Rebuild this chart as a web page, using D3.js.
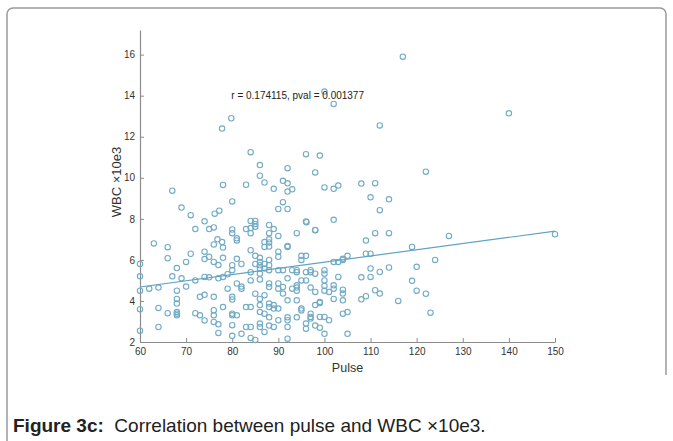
<!DOCTYPE html>
<html>
<head>
<meta charset="utf-8">
<script src="https://cdn.jsdelivr.net/npm/d3@7"></script>
<style>
  body { margin: 0; background: #fff; }
  svg { display: block; font-family: "Liberation Sans", Arial, sans-serif; }
</style>
</head>
<body>
<svg id="chart"></svg>
<script>
// pulse / wbc pairs
var pulse = [117,100,102,140,112,79.8,77.8,84,96,99,86,92,98,122,86,87,91,92,92,93,89,67,78,83,100,102,103,108,111,110,114,112,91,90,92,80,69,71,76.2,77.2,74,72,75,76,80,80,81,81,84,85,84,85,84,83,85,
  88,89,88,88,88,87,87,88,90,94,96,98,102,109,111,114,127,150,92,63,66,66,76.8,77.8,76,78,
  60,60,60,60,60,62,64,64,64,66,67,68,68,68,68,68,68,68,69,70,70,71,72,72,73,73,74,74,74,74,74,75,75,76,76,76,76,76,77,77,77,77,78,78,78,79,79,80,80,80,80,80,80,80,80,81,81,81,82,82,82,82,83,83,
  84,84,84,84,84,84,85,85,85,85,86,86,86,86,86,86,86,86,86,86,86,87,87,87,87,87,88,88,88,88,88,88,88,88,88,89,89,89,90,90,90,90,90,90,90,91,91,91,92,92,92,92,92,92,92,93,93,
  94,94,94,94,94,94,94,95,95,95,95,96,96,96,96,96,97,97,97,97,97,97,98,98,98,98,99,99,99,99,100,100,100,100,100,100,100,101,101,102,102,102,102,103,103,104,104,104,104,104,104,105,105,105,
  108,108,109,109,110,110,110,111,112,112,114,116,119,119,120,120,122,123,124,96.1,98,95];
var wbc = [15.9,14.2,13.6,13.14,12.55,12.9,12.4,11.25,11.15,11.08,10.62,10.47,10.26,10.3,10.1,9.77,9.85,9.73,9.33,9.44,9.46,9.37,9.65,9.66,9.53,9.46,9.62,9.72,9.74,9.05,8.95,8.42,8.81,8.48,8.48,8.85,8.55,8.18,8.25,8.4,7.88,7.5,7.5,7.58,7.48,7.3,7.05,6.95,7.9,7.9,7.55,7.62,7.3,7.5,7.75,
  7.7,7.5,7.3,7.0,6.85,6.87,6.63,6.65,7.17,7.3,7.87,7.46,7.95,6.94,7.3,7.3,7.17,7.25,6.68,6.8,6.62,6.08,7.0,6.87,6.75,6.6,
  5.8,5.2,4.5,3.6,2.55,4.6,4.65,3.66,2.73,3.4,5.2,5.6,4.5,4.1,3.87,3.46,3.38,3.3,5.1,5.9,4.7,6.3,5.0,3.4,3.3,4.2,4.3,5.17,3.05,6.4,6.04,6.15,5.15,5.9,4.2,3.55,3.3,2.98,5.75,5.1,2.86,2.44,6.1,5.17,3.7,5.3,4.6,5.74,5.5,4.2,4.07,3.38,3.3,2.82,2.3,4.85,6.05,3.3,4.7,4.6,5.8,2.4,3.7,2.73,
  6.47,5.4,5.0,3.7,2.73,2.2,6.2,5.8,4.35,2.1,6.1,5.9,5.74,5.58,5.33,5.05,4.1,3.8,3.46,2.9,2.73,5.8,5.58,4.28,3.38,2.49,6.0,5.74,5.5,4.85,4.68,3.87,3.7,3.2,2.8,3.8,3.63,2.73,6.4,6.15,5.5,4.85,4.6,3.63,3.06,5.5,4.68,4.36,6.63,5.1,4.03,3.2,3.06,2.73,2.16,5.5,4.6,
  5.5,5.4,4.76,4.65,4.5,4.03,3.2,6.2,6.0,5.0,3.63,6.2,5.4,5.0,2.9,2.65,5.5,5.4,4.65,3.38,3.22,3.14,5.33,4.44,3.8,2.8,3.95,3.9,3.22,2.7,5.5,5.33,5.0,4.73,4.5,3.22,2.4,3.06,4.44,5.9,4.76,4.6,4.1,5.17,5.9,6.0,6.05,4.55,4.36,4.03,3.38,3.46,6.2,2.4,
  5.15,4.08,6.3,4.23,6.3,5.58,5.17,4.52,5.41,4.36,5.63,4.0,6.63,4.98,5.66,4.5,4.35,3.43,6.0,7.84,7.45,3.54];

// least-squares line as drawn in the figure
var fitX = [60, 150];
var fitY = [4.68, 7.40];

var xTicks = [60, 70, 80, 90, 100, 110, 120, 130, 140, 150];
var yTicks = [2, 4, 6, 8, 10, 12, 14, 16];
var statText = "r = 0.174115, pval = 0.001377";

var width = 673, height = 441;
var svg = d3.select("#chart").attr("width", width).attr("height", height);

// rounded frame around the figure
var frame = d3.path();
frame.moveTo(7, height + 2);
frame.lineTo(7, 14);
frame.arcTo(7, 8, 13, 8, 6);
frame.lineTo(660, 8);
frame.arcTo(666, 8, 666, 14, 6);
frame.lineTo(666, 375);
svg.append("path")
   .attr("d", frame.toString())
   .attr("fill", "none")
   .attr("stroke", "#9a9a9a")
   .attr("stroke-width", 1.5);

var x = d3.scaleLinear().domain([60, 150]).range([140, 555]);
var y = d3.scaleLinear().domain([2, 17.2]).range([342, 30]);

var xAxis = svg.append("g")
    .attr("transform", "translate(0," + y(2) + ")")
    .call(d3.axisBottom(x).tickValues(xTicks).tickSizeInner(-4).tickSizeOuter(0).tickPadding(6));
var yAxis = svg.append("g")
    .attr("transform", "translate(" + x(60) + ",0)")
    .call(d3.axisLeft(y).tickValues(yTicks).tickSizeInner(-4).tickSizeOuter(0).tickPadding(5));

[xAxis, yAxis].forEach(function(g) {
  g.select(".domain").attr("stroke", "#8c8c8c").attr("stroke-width", 1.2);
  g.selectAll(".tick line").attr("stroke", "#8c8c8c");
  g.selectAll(".tick text")
   .attr("fill", "#333")
   .style("font-size", "10px")
   .style("font-family", "'Liberation Sans', Arial, sans-serif");
});

svg.append("g").selectAll("circle")
   .data(pulse)
   .enter()
   .append("circle")
   .attr("cx", function(d) { return x(d); })
   .attr("cy", function(d, i) { return y(wbc[i]); })
   .attr("r", 2.7)
   .attr("fill", "none")
   .attr("stroke", "#72abc6")
   .attr("stroke-width", 1.1);

svg.append("line")
   .attr("x1", x(fitX[0])).attr("y1", y(fitY[0]))
   .attr("x2", x(fitX[1])).attr("y2", y(fitY[1]))
   .attr("stroke", "#5fa3c2")
   .attr("stroke-width", 1.2);

svg.append("text")
   .attr("x", x(79.8))
   .attr("y", y(13.85))
   .attr("fill", "#222")
   .style("font-size", "10px")
   .text(statText);

svg.append("text")
   .attr("x", (x(60) + x(150)) / 2)
   .attr("y", 372)
   .attr("text-anchor", "middle")
   .attr("fill", "#333")
   .style("font-size", "12.5px")
   .text("Pulse");

svg.append("text")
   .attr("transform", "translate(121,182) rotate(-90)")
   .attr("text-anchor", "middle")
   .attr("fill", "#333")
   .style("font-size", "13px")
   .text("WBC \u00d710e3");

var caption = svg.append("text")
   .attr("x", 13)
   .attr("y", 432)
   .attr("fill", "#222")
   .style("font-size", "19px");
caption.append("tspan").style("font-weight", "bold").text("Figure 3c:");
caption.append("tspan").text("\u00a0 Correlation between pulse and WBC \u00d710e3.");
</script>
</body>
</html>
